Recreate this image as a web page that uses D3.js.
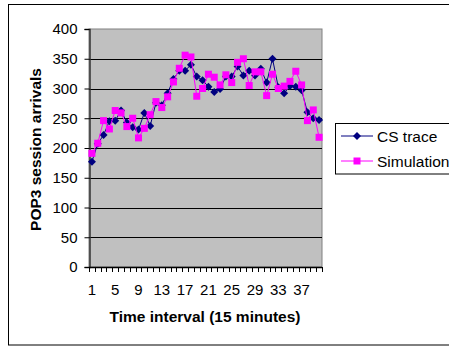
<!DOCTYPE html>
<html><head><meta charset="utf-8">
<script src="https://cdn.jsdelivr.net/npm/d3@7"></script>
<style>body{margin:0;background:#fff;}svg{display:block;font-family:Arial,"Liberation Sans",sans-serif;}</style>
</head><body>
<svg id="c" width="449" height="346"></svg>
<script>
const categories = d3.range(1, 41);
const tickLabels = [1,5,9,13,17,21,25,29,33,37];
const yTicks = [0,50,100,150,200,250,300,350,400];
const csTrace = [177,207,222,245,246,263,243,235,231,259,237,276,272,292,316,330,330,340,320,314,303,294,299,320,320,337,322,330,322,333,310,350,302,292,304,303,297,260,250,247];
const simulation = [191,208,246,232,263,259,236,250,217,233,256,278,268,286,311,334,356,353,287,300,324,319,306,323,310,344,350,305,328,328,288,324,300,304,312,329,306,246,264,218];
const seriesNames = ["CS trace","Simulation"];

const svg = d3.select("#c");
// outer frame
svg.append("rect").attr("x",8.5).attr("y",4.5).attr("width",460).attr("height",340.5)
  .attr("fill","none").attr("stroke","#000").attr("stroke-width",1);

const L=89, R=322, T=29, B=267;
const x = d3.scaleBand().domain(categories).range([L,R]);
const y = d3.scaleLinear().domain([0,400]).range([B,T]);

svg.append("rect").attr("x",L).attr("y",T).attr("width",R-L).attr("height",B-T)
  .attr("fill","#C0C0C0").attr("stroke","#808080").attr("stroke-width",1);

// gridlines
svg.append("g").selectAll("line").data(yTicks.filter(v=>v>0&&v<400)).join("line")
  .attr("x1",L).attr("x2",R).attr("y1",d=>Math.round(y(d))+0.5).attr("y2",d=>Math.round(y(d))+0.5)
  .attr("stroke","#000").attr("stroke-width",1);

// y axis
const ya = svg.append("g").attr("transform",`translate(${L+0.5},0)`)
  .call(d3.axisLeft(y).tickValues(yTicks).tickSize(5).tickPadding(7));
ya.select(".domain").attr("stroke","#333").attr("stroke-width",1.5);
ya.selectAll(".tick line").attr("stroke","#000");
ya.selectAll("text").attr("font-size","15px").attr("fill","#000").attr("font-family","Arial, 'Liberation Sans', sans-serif");

// x axis: tick marks at category boundaries
const xb = svg.append("g");
xb.append("line").attr("x1",L).attr("x2",R).attr("y1",B+0.5).attr("y2",B+0.5).attr("stroke","#000").attr("stroke-width",1.5);
const bounds = categories.map(c=>x(c)).concat([R]);
xb.selectAll("line.t").data(bounds).join("line").attr("class","t")
  .attr("x1",d=>Math.round(d)+0.5).attr("x2",d=>Math.round(d)+0.5).attr("y1",B).attr("y2",B+5)
  .attr("stroke","#000");
const xc = d => x(d)+x.bandwidth()/2;
xb.selectAll("text").data(tickLabels).join("text")
  .attr("x",d=>xc(d)).attr("y",294.5).attr("text-anchor","middle")
  .attr("font-size","15px").text(d=>d);

// axis titles
svg.append("text").attr("x",205).attr("y",321.5).attr("text-anchor","middle")
  .attr("font-size","15.5px").attr("font-weight","bold").text("Time interval (15 minutes)");
svg.append("text").attr("transform","translate(41,149.5) rotate(-90)").attr("text-anchor","middle")
  .attr("font-size","15.5px").attr("font-weight","bold").text("POP3 session arrivals");

// series
const line = d3.line().x((d,i)=>xc(categories[i])).y(d=>y(d));
const colors = ["#000080","#FF00FF"];
function diamond(g, cx, cy, col){
  g.append("path").attr("d",`M${cx},${cy-4}L${cx+4},${cy}L${cx},${cy+4}L${cx-4},${cy}Z`).attr("fill",col);
}
function square(g, cx, cy, col){
  g.append("rect").attr("x",cx-3.5).attr("y",cy-3.5).attr("width",7).attr("height",7).attr("fill",col);
}
[csTrace, simulation].forEach((data,si)=>{
  const g = svg.append("g");
  g.append("path").attr("d",line(data)).attr("fill","none").attr("stroke",colors[si]).attr("stroke-width",1);
  data.forEach((v,i)=>{
    if(si===0) diamond(g, xc(categories[i]), y(v), colors[si]);
    else square(g, xc(categories[i]), y(v), colors[si]);
  });
});

// legend
const lg = svg.append("g");
lg.append("rect").attr("x",335.5).attr("y",123.5).attr("width",130).attr("height",50.5)
  .attr("fill","#fff").attr("stroke","#000").attr("stroke-width",1);
seriesNames.forEach((n,i)=>{
  const ly = 136 + i*25;
  lg.append("line").attr("x1",341).attr("x2",373).attr("y1",ly).attr("y2",ly).attr("stroke",colors[i]).attr("stroke-width",1);
  if(i===0) diamond(lg,357,ly,colors[i]); else square(lg,357,ly,colors[i]);
  lg.append("text").attr("x",377).attr("y",ly+5.5).attr("font-size","15.5px").text(n);
});
</script>
</body></html>
